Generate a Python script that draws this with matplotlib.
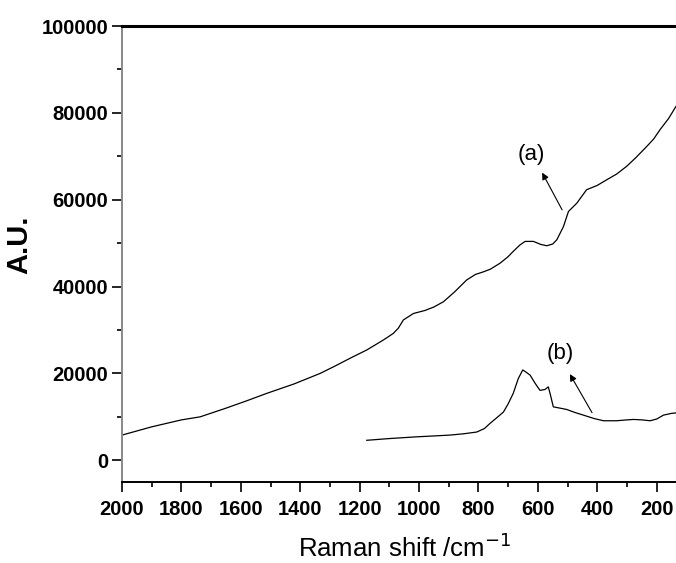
import matplotlib
matplotlib.use('Agg')
import matplotlib.pyplot as plt
from matplotlib.ticker import MultipleLocator

# Curve (a): Raman shift (cm-1) vs intensity
shift_a = [2000, 1900, 1800, 1737, 1650, 1580, 1513, 1420, 1333, 1280, 1232,
           1176, 1120, 1087, 1070, 1053, 1019, 980, 950, 918, 880, 840, 810,
           783, 760, 727, 700, 683, 660, 643, 615, 590, 570, 550, 536, 514,
           497, 469, 436, 400, 368, 335, 301, 270, 233, 210, 189, 160, 135]
int_a = [5800, 7700, 9300, 10000, 12000, 13700, 15400, 17600, 20000, 21800, 23500,
         25400, 27700, 29200, 30400, 32300, 33800, 34500, 35300, 36500, 38800, 41500, 42800,
         43400, 44000, 45400, 46900, 48100, 49600, 50400, 50400, 49700, 49400, 49800, 50800, 53800,
         57300, 59200, 62300, 63300, 64600, 65900, 67700, 69700, 72300, 74000, 76100, 78700, 81500]

# Curve (b)
shift_b = [1176, 1100, 1008, 950, 896, 850, 806, 780, 761, 740, 716, 700, 683,
           666, 651, 640, 626, 610, 593, 576, 565, 559, 548, 525, 503, 475,
           447, 410, 379, 335, 300, 278, 250, 222, 200, 177, 150, 135]
int_b = [4600, 5000, 5400, 5600, 5800, 6100, 6500, 7300, 8500, 9700, 11100, 13000, 15400,
         18800, 20800, 20300, 19600, 17800, 16100, 16300, 16900, 15400, 12300, 12000, 11700, 11000,
         10400, 9600, 9100, 9100, 9300, 9400, 9300, 9100, 9500, 10400, 10800, 10900]

FONT = ['Liberation Sans', 'DejaVu Sans']

fig = plt.figure(figsize=(6.76, 5.63), dpi=100)
ax = fig.add_axes([0.1805, 0.1439, 0.8195, 0.8099])

ax.plot(shift_a, int_a, color='black', linewidth=0.9)
ax.plot(shift_b, int_b, color='black', linewidth=0.9)

ax.set_xlim(2000, 135)
ax.set_ylim(-5000, 100000)

ax.xaxis.set_major_locator(MultipleLocator(200))
ax.xaxis.set_minor_locator(MultipleLocator(100))
ax.yaxis.set_minor_locator(MultipleLocator(10000))
ax.set_yticks([0, 20000, 40000, 60000, 80000, 100000])

ax.tick_params(which='major', direction='out', length=7, width=1.2, color='black')
ax.tick_params(which='minor', direction='out', length=3.5, width=1.2, color='black')
ax.tick_params(axis='x', pad=6)
ax.tick_params(axis='y', pad=3)
for lbl in ax.get_xticklabels() + ax.get_yticklabels():
    lbl.set_fontfamily(FONT)
    lbl.set_fontsize(14.5)
    lbl.set_fontweight('bold')

ax.spines['right'].set_visible(False)
ax.spines['top'].set_linewidth(2.2)
ax.spines['top'].set_color('black')
ax.spines['left'].set_color('#888888')
ax.spines['left'].set_linewidth(1.4)
ax.spines['bottom'].set_linewidth(1.4)

ax.set_xlabel('Raman shift /cm$^{-1}$', fontsize=18.5, family=FONT)
ax.set_ylabel('A.U.', fontsize=21, fontweight='bold', family=FONT)
ax.yaxis.set_label_coords(-0.161, 0.52)
ax.xaxis.set_label_coords(0.51, -0.112)

ax.annotate('', xy=(590, 66800), xytext=(514, 57100),
            arrowprops=dict(arrowstyle='-|>', color='black', lw=0.8, mutation_scale=10))
ax.text(621, 70400, '(a)', ha='center', va='center', fontsize=16, family=FONT)
ax.annotate('', xy=(497, 20400), xytext=(413, 10400),
            arrowprops=dict(arrowstyle='-|>', color='black', lw=0.8, mutation_scale=10))
ax.text(525, 24600, '(b)', ha='center', va='center', fontsize=16, family=FONT)

plt.savefig('out.png', dpi=100)
plt.close()
